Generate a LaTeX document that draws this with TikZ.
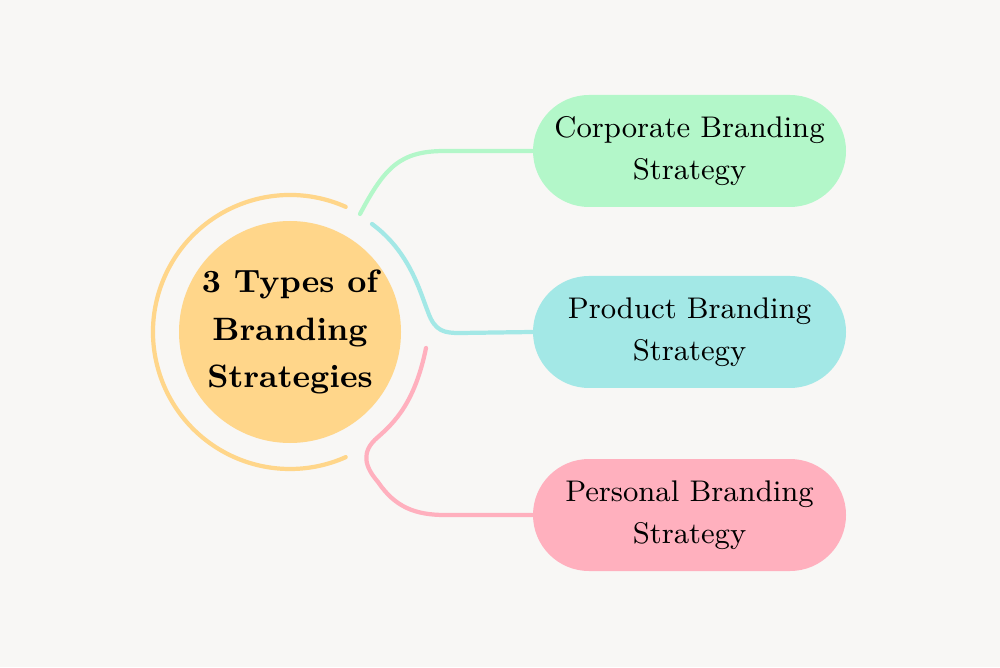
\documentclass[tikz,border=0pt]{standalone}
\usetikzlibrary{positioning}
\definecolor{bgcol}{HTML}{F8F7F5}
\definecolor{hubcol}{HTML}{FFD68A}
\definecolor{greencol}{HTML}{B3F7C9}
\definecolor{cyancol}{HTML}{A3E8E6}
\definecolor{pinkcol}{HTML}{FFB0BE}
\tikzset{
  pill/.style={fill=#1, rounded corners=0.56cm, minimum width=3.13cm, minimum height=1.12cm,
    inner sep=0pt, align=center, font=\fontsize{8.5}{11.8}\selectfont},
  link/.style={line width=1.2pt, #1, line cap=round}
}
\begin{document}
\begin{tikzpicture}
  \fill[bgcol] (0,0) rectangle (10,6.67);
  \useasboundingbox (0,0) rectangle (10,6.67);
  \node[circle, fill=hubcol, minimum size=2.22cm, inner sep=0pt, align=center,
        font=\fontsize{9.2}{13.5}\selectfont\bfseries] (hub) at (2.9,3.35)
        {3 Types of\\Branding\\Strategies};
  \draw[link=hubcol] (hub.center) ++(66:1.37) arc (66:294:1.37);

  \node[pill=greencol] (corp) at (6.895,5.16) {Corporate Branding\\Strategy};
  \node[pill=cyancol, right=0pt of corp.west, anchor=west, yshift=-1.81cm] (prod) {Product Branding\\Strategy};
  \node[pill=pinkcol, right=0pt of prod.west, anchor=west, yshift=-1.83cm] (pers) {Personal Branding\\Strategy};

  \coordinate (gstart) at (3.6,4.53);
  \coordinate (cstart) at (3.72,4.43);
  \coordinate (pstart) at (4.26,3.19);

  \draw[link=greencol] (gstart) .. controls (3.85,5.0) and (4.0,5.16) .. (4.45,5.16) -- (corp.west);
  \draw[link=cyancol] (cstart) .. controls (4.1,4.15) and (4.2,3.75) .. (4.28,3.55)
     .. controls (4.35,3.35) and (4.45,3.34) .. (4.6,3.34) -- (prod.west);
  \draw[link=pinkcol] (pstart) .. controls (4.15,2.65) and (3.95,2.45) .. (3.78,2.3)
     .. controls (3.6,2.15) and (3.65,2.0) .. (3.78,1.85)
     .. controls (3.95,1.6) and (4.15,1.52) .. (4.45,1.52) -- (pers.west);
\end{tikzpicture}
\end{document}
